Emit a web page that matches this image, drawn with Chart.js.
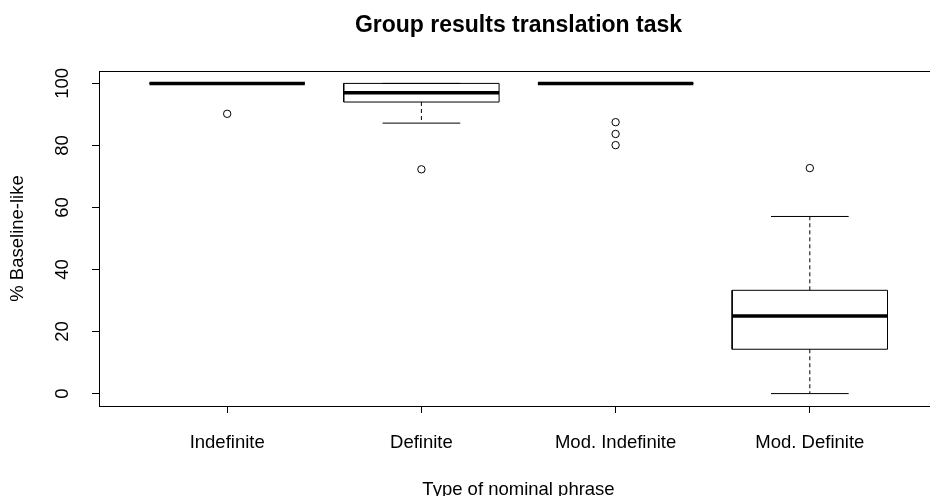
<!DOCTYPE html>
<html><head><meta charset="utf-8">
<script src="https://cdn.jsdelivr.net/npm/chart.js@4.4.1/dist/chart.umd.min.js"></script>
<style>
html,body{margin:0;padding:0;background:#fff;overflow:hidden;width:930px;height:496px}
#wrap{position:absolute;left:0;top:0;width:945px;height:496px}
</style>
</head><body><div id="wrap"><canvas id="c" width="945" height="496"></canvas></div>
<script>
// ---- data ----
const categories = ['Indefinite', 'Definite', 'Mod. Indefinite', 'Mod. Definite'];
const lowerWhisker = [100, 87.2, 100, 0];
const q1 = [100, 94.0, 100, 14.3];
const medians = [100, 97.0, 100, 25.0];
const q3 = [100, 100, 100, 33.3];
const upperWhisker = [100, 100, 100, 57.1];
const outliers = [[90.2], [72.3], [87.5, 83.7, 80.1], [72.7]];
const yTicks = [0, 20, 40, 60, 80, 100];

const FONT = 'Liberation Sans, Arial, sans-serif';
const BOX_HALF = 0.4, CAP_HALF = 0.2;

const boxPts = [], medPts = [], whiskPts = [], capPts = [], outPts = [];
categories.forEach((c, i) => {
  const x = i + 1;
  boxPts.push({x: x - BOX_HALF, y: q1[i]}, {x: x + BOX_HALF, y: q1[i]}, {x: x + BOX_HALF, y: q3[i]},
              {x: x - BOX_HALF, y: q3[i]}, {x: x - BOX_HALF, y: q1[i]}, {x: x, y: null});
  medPts.push({x: x - BOX_HALF, y: medians[i]}, {x: x + BOX_HALF, y: medians[i]}, {x: x, y: null});
  whiskPts.push({x: x, y: q3[i]}, {x: x, y: upperWhisker[i]}, {x: x, y: null},
                {x: x, y: q1[i]}, {x: x, y: lowerWhisker[i]}, {x: x, y: null});
  capPts.push({x: x - CAP_HALF, y: upperWhisker[i]}, {x: x + CAP_HALF, y: upperWhisker[i]}, {x: x, y: null},
              {x: x - CAP_HALF, y: lowerWhisker[i]}, {x: x + CAP_HALF, y: lowerWhisker[i]}, {x: x, y: null});
  outliers[i].forEach(v => outPts.push({x: x, y: v}));
});

const lineBase = {type: 'line', pointRadius: 0, tension: 0, spanGaps: false, fill: false,
                  borderColor: '#000', borderCapStyle: 'butt', borderJoinStyle: 'miter'};

const framePlugin = {
  id: 'frame',
  afterDraw(chart) {
    const {ctx, chartArea: a} = chart;
    ctx.save();
    ctx.strokeStyle = '#000';
    ctx.lineWidth = 1;
    ctx.strokeRect(Math.round(a.left) + 0.5, Math.round(a.top) + 0.5,
                   Math.round(a.right - a.left), Math.round(a.bottom - a.top));
    ctx.restore();
  }
};

new Chart(document.getElementById('c'), {
  type: 'line',
  data: {
    datasets: [
      Object.assign({}, lineBase, {data: medPts, borderWidth: 3.5, order: 0}),
      Object.assign({}, lineBase, {data: boxPts, borderWidth: 1, order: 1}),
      Object.assign({}, lineBase, {data: capPts, borderWidth: 1, order: 2}),
      Object.assign({}, lineBase, {data: whiskPts, borderWidth: 1, borderDash: [4, 3], order: 3}),
      {type: 'scatter', data: outPts, pointStyle: 'circle', pointRadius: 3.7, pointBorderWidth: 1,
       pointBackgroundColor: '#fff', pointBorderColor: '#000', showLine: false, order: 4}
    ]
  },
  options: {
    responsive: false,
    devicePixelRatio: 1,
    animation: false,
    layout: {padding: {left: 7, right: 7, top: 0, bottom: 0}},
    plugins: {
      legend: {display: false},
      tooltip: {enabled: false},
      title: {
        display: true, text: 'Group results translation task', fullSize: false,
        color: '#000', font: {family: FONT, size: 23, weight: 'bold', lineHeight: 1.2},
        padding: {top: 12, bottom: 31.4}
      }
    },
    scales: {
      x: {
        type: 'linear', min: 0.34, max: 4.66,
        afterBuildTicks: s => { s.ticks = categories.map((c, i) => ({value: i + 1})); },
        afterFit: s => { s.height = 90; },
        grid: {drawOnChartArea: false, drawTicks: true, tickLength: 7, color: '#000', lineWidth: 1},
        border: {display: false},
        ticks: {autoSkip: false, maxRotation: 0, minRotation: 0, padding: 19, color: '#000',
                font: {family: FONT, size: 18.5},
                callback: v => categories[Math.round(v) - 1] || ''},
        title: {display: true, text: 'Type of nominal phrase', color: '#000',
                font: {family: FONT, size: 18.5, lineHeight: 1}, padding: {top: 0, bottom: -3}}
      },
      y: {
        type: 'linear', min: -4, max: 104,
        afterBuildTicks: s => { s.ticks = yTicks.map(v => ({value: v})); },
        afterFit: s => { s.width = 92; },
        grid: {drawOnChartArea: false, drawTicks: true, tickLength: 7, color: '#000', lineWidth: 1},
        border: {display: false},
        ticks: {minRotation: 90, maxRotation: 90, crossAlign: 'center', padding: 13.5, color: '#000',
                font: {family: FONT, size: 18.5}},
        title: {display: true, text: '% Baseline-like', color: '#000',
                font: {family: FONT, size: 18.5, lineHeight: 1}, padding: {top: 2, bottom: 0}}
      }
    }
  },
  plugins: [framePlugin]
});
</script>
</body></html>
